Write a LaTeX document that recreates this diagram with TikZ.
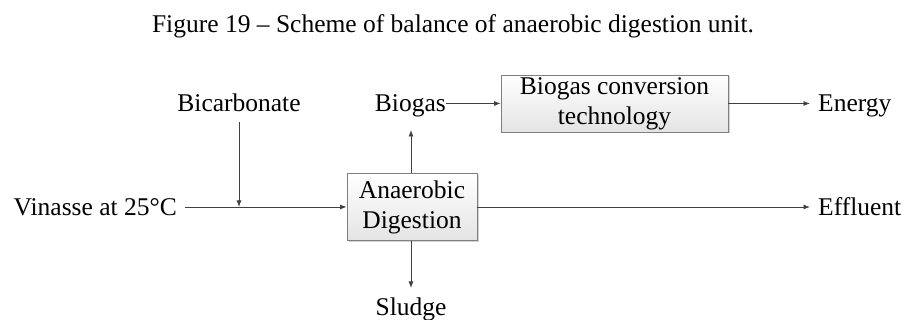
\documentclass[tikz,border=0pt]{standalone}
\usepackage{fontspec}
\setmainfont{Liberation Serif}
\usetikzlibrary{arrows.meta,shadows}

\definecolor{linegray}{HTML}{404040}
\definecolor{boxedge}{HTML}{7F7F7F}
\definecolor{boxbottom}{HTML}{E4E4E4}

\tikzset{
  lbl/.style={inner sep=0pt, text height=17pt, text depth=0pt,
              font=\fontsize{25.5}{30}\selectfont},
  unitbox/.style={draw=boxedge, line width=0.8pt, align=center, inner sep=0pt,
              top color=white, bottom color=boxbottom,
              font=\fontsize{25.5}{30}\selectfont,
              drop shadow={shadow xshift=1.5pt, shadow yshift=-1.5pt,
                           opacity=0.35, fill=gray}},
  flow/.style={draw=linegray, line width=0.8pt,
               -{Latex[length=6.5pt,width=5pt]}},
  plain/.style={draw=linegray, line width=0.8pt}
}

\begin{document}
\begin{tikzpicture}[x=1pt,y=1pt]
  \useasboundingbox (0,0) rectangle (907,320);

  % caption
  \node[anchor=base, inner sep=0pt, font=\fontsize{25.5}{30}\selectfont]
    (title) at (453,287) {Figure 19 -- Scheme of balance of anaerobic digestion unit.};

  % process units
  \node[unitbox, minimum width=130pt, minimum height=67pt]
    (ad) at (412,113) {Anaerobic\\Digestion};
  \node[unitbox, minimum width=227pt, minimum height=57pt]
    (bct) at (614.5,216.5) {Biogas conversion\\technology};

  % streams
  \node[lbl, anchor=east] (vin) at (177,113) {Vinasse at 25°C};
  \node[lbl, anchor=south] (bic) at (239,208) {Bicarbonate};
  \node[lbl, anchor=east] (gas) at (446,216.5) {Biogas};
  \node[lbl, anchor=west] (eng) at (818,216.5) {Energy};
  \node[lbl, anchor=west] (eff) at (818,113) {Effluent};
  \node[lbl, anchor=south] (slu) at (411,4) {Sludge};

  \coordinate (vinstart) at (185,113);
  \coordinate (mix) at (239,113);
  \coordinate (bictop) at (239,198);
  \coordinate (gastip) at (411,190);
  \coordinate (slutip) at (411,32);

  % connectors
  \draw[plain] (vinstart) -- (mix);
  \draw[flow] (mix) -- (ad.west |- mix);
  \draw[flow] (bictop) -- (mix);
  \draw[flow] (ad.north -| gastip) -- (gastip);
  \draw[flow] (ad.south -| slutip) -- (slutip);
  \draw[flow] (gas.east) -- (bct.west |- gas.east);
  \draw[flow] (bct.east |- eng.west) -- ([xshift=-8pt]eng.west);
  \draw[flow] (ad.east |- eff.west) -- ([xshift=-8pt]eff.west);
\end{tikzpicture}
\end{document}
